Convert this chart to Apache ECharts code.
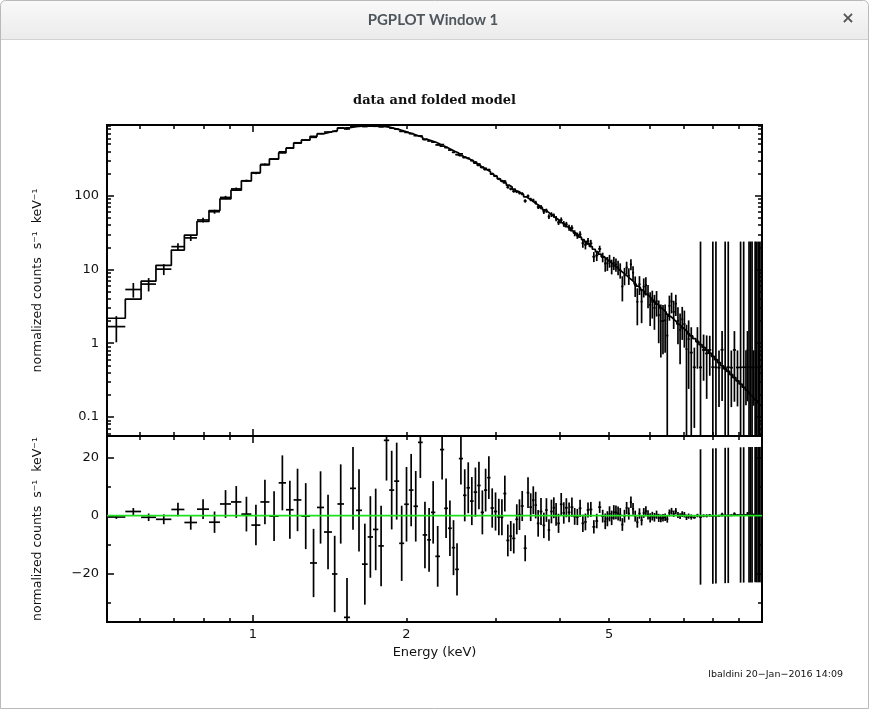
<!DOCTYPE html>
<html><head><meta charset="utf-8">
<script src="https://cdn.jsdelivr.net/npm/echarts@6/dist/echarts.min.js"></script>
<style>html,body{margin:0;padding:0;background:#fff}#c{width:869px;height:709px}</style>
</head><body><div id="c"></div>
<script>
// ---- axis ranges / ticks ----
const X_MIN = 0.517, X_MAX = 9.9783;
const Y_MIN = 0.0552, Y_MAX = 910;
const R_MIN = -36.8, R_MAX = 27.5;
const xMinorTicks = [0.6, 0.7, 0.8, 0.9, 2, 3, 4, 5, 6, 7, 8, 9];
const xMajorTicks = [1];
const xTickLabels = [1, 2, 5];
const yMinorTicks = [0.06, 0.07, 0.08, 0.09, 0.2, 0.3, 0.4, 0.5, 0.6, 0.7, 0.8, 0.9, 2, 3, 4, 5, 6, 7, 8, 9,
  20, 30, 40, 50, 60, 70, 80, 90, 200, 300, 400, 500, 600, 700, 800, 900];
const yMajorTicks = [0.1, 1, 10, 100];
const yTickLabels = [0.1, 1, 10, 100];
const rMinorTicks = [-30, -10, 10];
const rMajorTicks = [-20, 0, 20];
const rTickLabels = [-20, 0, 20];

// ---- channel (bin) edges in keV ----
const edges = [
  0.517, 0.5616, 0.6031, 0.645, 0.6915, 0.7334, 0.7764, 0.8197, 0.8613, 0.9054, 0.9489, 0.9928, 1.034, 1.077, 1.1231, 1.161, 1.2017, 1.2445, 1.294, 1.3357, 1.3786, 1.429, 1.4644,
  1.5088, 1.5502, 1.5928, 1.6365, 1.6793, 1.7203, 1.7621, 1.8064, 1.8506, 1.8929, 1.9362, 1.9804, 2.0225, 2.0654, 2.1079, 2.1532, 2.1974, 2.2354, 2.2798, 2.3288, 2.3728, 2.4139, 2.4563, 2.4938, 2.5353, 2.5833, 2.6245, 2.6663,
  2.7112, 2.7545, 2.7984, 2.8411, 2.8818, 2.9257, 2.9704, 3.015, 3.0604, 3.1, 3.1423, 3.1853, 3.2265, 3.2728, 3.3159, 3.3537, 3.3986, 3.4451, 3.4866, 3.5294, 3.5694, 3.6067, 3.6503, 3.7001, 3.7454, 3.788, 3.8311, 3.8746, 3.9151, 3.9543, 4.0028, 4.051, 4.0969, 4.1463, 4.1991, 4.2535, 4.3058, 4.3576, 4.4132, 4.4673, 4.5181, 4.5726, 4.635, 4.6982, 4.7592, 4.8242, 4.8899,
  4.9374, 4.9854, 5.0338, 5.0827, 5.1321, 5.1819, 5.2322, 5.283, 5.3343, 5.3861, 5.4384, 5.4912, 5.5445, 5.5984, 5.6528, 5.7077, 5.7631, 5.819, 5.8755, 5.9326, 5.9902, 6.0484, 6.1071, 6.1664, 6.2263, 6.2868, 6.3478, 6.4094, 6.4717, 6.5345, 6.598, 6.662, 6.7267, 6.7921, 6.858, 6.9246, 6.9919, 7.0598, 7.1283, 7.1975,
  7.2985, 7.4009, 7.5047, 7.61, 7.7168, 7.825, 7.9348, 8.0461, 8.159, 8.2734, 8.3895, 8.5072, 8.6265, 8.7475, 8.8702, 8.9947, 9.1208, 9.2488,
  9.3129, 9.3774, 9.4423, 9.5077, 9.5735, 9.6398, 9.7066, 9.7738, 9.8415, 9.9097, 9.9783
];

// ---- folded model per bin (counts s^-1 keV^-1) ----
const model = [
  2.18, 3.95, 6.94, 11.4, 18.3, 29.2, 44.7, 63, 90.8, 119, 159, 206, 262, 314, 382, 442, 517, 568, 636, 692, 736, 767, 826,
  840, 862, 877, 884, 885, 880, 870, 851, 819, 789, 755, 718, 686, 650, 622, 584, 562, 534, 503, 471, 448, 421, 399, 380, 350, 328, 312,
  295, 277, 258, 242, 225, 212, 196, 184, 170, 159, 149, 139, 131, 123, 115, 109, 103, 96.3, 91.1, 86.1, 81.1, 77.2, 73.4, 68.7, 64.4, 60.8, 57.2, 54.2, 51.1, 48.7, 46.1, 43.0, 40.7, 38.2, 35.9, 33.5, 31.4, 29.3, 27.4, 25.4, 23.8, 22.3, 20.5, 18.8, 17.4, 16.1, 14.9,
  14.01, 13.25, 12.57, 11.88, 11.22, 10.61, 10.03, 9.51, 8.99, 8.50, 8.04, 7.57, 7.16, 6.75, 6.34, 5.95, 5.61, 5.27, 4.97, 4.65, 4.37, 4.11, 3.86, 3.62, 3.40, 3.20, 2.99, 2.81, 2.64, 2.47, 2.32, 2.19, 2.06, 1.94, 1.82, 1.72, 1.61, 1.52, 1.43, 1.34,
  1.256, 1.151, 1.051, 0.960, 0.880, 0.806, 0.732, 0.664, 0.601, 0.546, 0.495, 0.449, 0.414, 0.376, 0.341, 0.309, 0.280, 0.253,
  0.234, 0.223, 0.212, 0.201, 0.191, 0.182, 0.172, 0.164, 0.156, 0.148, 0.141
];

// ---- residuals (data - model) per bin ----
const resid = [
  -0.5, 1.4, -0.6, -1.3, 2.1, -2.4, 2.2, -2.3, 4.0, 4.7, 0.5, -3.3, 4.7, -0.2, 11.3, 2.0, 5.4, -0.2, -16.4, 2.8, -5.7, -20.2, 4.0,
  -35.2, 9.4, 1.8, -16.8, -7.4, -4.8, -10.5, 26.0, 8.8, 11.9, -9.6, 3.9, 8.8, 3.2, 25.3, -6.7, -8.4, 1.1, -14.1, 22.8, 2.5, -4.4, -11.1, -18.6, 19.7, 7.0, 9.6,
  5.0, 8.1, 10.4, 1.1, 8.8, 13.1, 2.6, 1.4, -0.5, -0.6, 7.6, -8.6, -7.1, -7.9, -1.3, 0.3, 3.3, -11.3, 7.9, 2.9, 5.3, 3.6, -2.7, 1.4, -3.4, 1.9, -5.0, 1.4, 2.7, 0.4, -2.7, 3.9, 0.9, 2.7, 1.1, 2.9, -0.3, -0.5, 2.5, -2.7, -2.2, 1.9, 2.1, -3.9, -1.9, 2.9, -0.2,
  -2.0, -1.1, 0.6, -0.8, 1.1, 1.1, 0.7, 0.3, -3.1, -0.2, 2.6, 0.7, 4.6, 2.3, -0.2, -2.3, 0.7, -1.6, 0.9, 1.5, 0.2, -0.8, -0.2, -0.6, 0.3, -0.8, -1.0, -0.8, -0.6, -1.2, 0.9, 1.5, 0.6, 1.5, 0.2, -0.2, 0.5, 0.3, -0.6, -0.2,
  -0.51, -0.68, 0.0, -0.49, -0.07, -0.08, 0.08, -0.19, -0.13, -0.08, 0.32, 0.02, 0.06, 0.09, 0.47, 0.16, 0.19, 0.22,
  0.24, 0.59, 0.26, 0.27, 0.28, 0.29, 0.30, 0.31, 0.31, 0.32, 0.33
];

// ---- 1-sigma errors per bin ----
const err = [
  0.65, 1.2, 1.3, 1.7, 2.3, 2.5, 3.4, 3.7, 4.8, 5.5, 6.0, 7.0, 7.7, 8.6, 9.5, 10.0, 10.8, 11.4, 11.8, 12.5, 12.9, 13.2, 13.7,
  13.6, 14.3, 14.2, 14.0, 14.1, 14.1, 13.9, 13.9, 13.6, 13.3, 13.0, 12.9, 12.5, 12.2, 12.3, 11.5, 11.0, 10.8, 10.5, 10.3, 10.3, 9.6, 9.5, 9.0, 9.0, 9.0, 8.8,
  8.3, 8.5, 8.2, 7.6, 7.4, 7.4, 6.8, 6.6, 6.3, 6.2, 6.2, 5.5, 5.2, 5.2, 5.2, 5.3, 5.2, 4.5, 5.3, 4.8, 4.8, 4.6, 4.6, 4.7, 4.4, 4.1, 3.7, 4.1, 3.6, 3.9, 3.3, 3.9, 3.7, 3.3, 3.4, 3.3, 2.9, 2.8, 3.0, 3.0, 2.9, 2.6, 2.6, 2.3, 2.5, 2.0, 2.2,
  2.7, 2.6, 2.6, 2.5, 2.5, 2.4, 2.4, 2.3, 2.2, 2.2, 2.1, 2.1, 2.0, 2.0, 1.9, 1.9, 1.8, 1.8, 1.7, 1.7, 1.6, 1.6, 1.5, 1.5, 1.4, 1.4, 1.35, 1.3, 1.3, 1.25, 1.2, 1.15, 1.1, 1.1, 1.05, 1.0, 1.0, 0.95, 0.95, 0.9,
  0.9, 0.4, 0.6, 23.4, 0.5, 0.55, 0.45, 23.4, 23.4, 0.33, 0.65, 23.4, 23.4, 0.33, 0.65, 0.33, 23.4, 23.4,
  0.33, 0.65, 23.4, 23.4, 23.4, 0.33, 23.4, 23.4, 23.4, 23.4, 23.4
];

// ---- build tables for the library ----
const nBins = model.length;
const centers = model.map((_, i) => (edges[i] + edges[i + 1]) / 2);
const upperData = model.map((m, i) => [edges[i], edges[i + 1], centers[i], m + resid[i], err[i]]);
const lowerData = resid.map((r, i) => [edges[i], edges[i + 1], centers[i], r, err[i]]);
const modelSteps = edges.map((e, i) => [e, model[Math.min(i, nBins - 1)]]);
const zeroLine = [[X_MIN, 0], [X_MAX, 0]];

const LW = 1.7;
const SANS = 'DejaVu Sans';

function makeCross(isLog) {
  return function (params, api) {
    const cs = params.coordSys;
    const L = cs.x, R = cs.x + cs.width, T = cs.y, B = cs.y + cs.height;
    const lo = api.value(0), hi = api.value(1), c = api.value(2), v = api.value(3), e = api.value(4);
    const ref = isLog ? 1 : 0;
    const xl = api.coord([lo, ref])[0], xh = api.coord([hi, ref])[0], xc = api.coord([c, ref])[0];
    const py = val => (isLog && val <= 0) ? B + 50 : api.coord([c, val])[1];
    const yv = py(v), yt = py(v + e), yb = py(v - e);
    const clampY = y => Math.min(B, Math.max(T, y));
    const st = { stroke: '#000', lineWidth: LW, fill: null };
    const kids = [];
    if (yv >= T && yv <= B) {
      kids.push({ type: 'line', shape: { x1: Math.max(L, xl), y1: yv, x2: Math.min(R, xh), y2: yv }, style: st });
    }
    const a = clampY(yt), b = clampY(yb);
    if (b - a > 0.2) kids.push({ type: 'line', shape: { x1: xc, y1: a, x2: xc, y2: b }, style: st });
    return { type: 'group', children: kids };
  };
}

const axLine = { show: true, onZero: false, lineStyle: { color: '#000', width: 2 } };
function tick(values, len) {
  return { show: true, inside: true, length: len, customValues: values, lineStyle: { color: '#000', width: 1.5 } };
}
const noLabel = { show: false };
const off = { show: false };
const minusFmt = v => String(v).replace('-', '\u2212');

function xAx(grid, pos, ticks, len, extra) {
  return Object.assign({
    type: 'log', logBase: 10, gridIndex: grid, position: pos, min: X_MIN, max: X_MAX,
    axisLine: axLine, axisTick: tick(ticks, len), axisLabel: noLabel,
    splitLine: off, minorTick: off, minorSplitLine: off, axisPointer: off
  }, extra || {});
}
function yLog(grid, pos, ticks, len, extra) {
  return Object.assign({
    type: 'log', logBase: 10, gridIndex: grid, position: pos, min: Y_MIN, max: Y_MAX,
    axisLine: axLine, axisTick: tick(ticks, len), axisLabel: noLabel,
    splitLine: off, minorTick: off, minorSplitLine: off
  }, extra || {});
}
function yLin(grid, pos, ticks, len, extra) {
  return Object.assign({
    type: 'value', gridIndex: grid, position: pos, min: R_MIN, max: R_MAX,
    axisLine: axLine, axisTick: tick(ticks, len), axisLabel: noLabel,
    splitLine: off, minorTick: off, minorSplitLine: off
  }, extra || {});
}

const yName = 'normalized counts  s\u207B\u00B9  keV\u207B\u00B9';
const nameStyle = { fontFamily: SANS, fontSize: 12.5, color: '#111' };
const labelStyle = { show: true, fontFamily: SANS, fontSize: 13, color: '#111' };

const chart = echarts.init(document.getElementById('c'), null, { renderer: 'canvas' });
chart.setOption({
  animation: false,
  backgroundColor: '#ffffff',
  title: {
    text: 'data and folded model', left: 'center', top: 89,
    textStyle: { fontFamily: 'DejaVu Serif', fontWeight: 'bold', fontSize: 13, color: '#111' }
  },
  grid: [
    { left: 107, top: 125, width: 655, height: 311, containLabel: false },
    { left: 107, top: 436, width: 655, height: 186, containLabel: false }
  ],
  xAxis: [
    xAx(0, 'bottom', xMinorTicks, 4),
    xAx(0, 'bottom', xMajorTicks, 7),
    xAx(0, 'top', xMinorTicks, 4),
    xAx(0, 'top', xMajorTicks, 7),
    xAx(1, 'bottom', xMinorTicks, 4, {
      axisLabel: Object.assign({ customValues: xTickLabels, margin: 6 }, labelStyle),
      name: 'Energy (keV)', nameLocation: 'middle', nameGap: 24, nameTextStyle: { fontFamily: SANS, fontSize: 13, color: '#111' }
    }),
    xAx(1, 'bottom', xMajorTicks, 7),
    xAx(1, 'top', xMinorTicks, 4),
    xAx(1, 'top', xMajorTicks, 7)
  ],
  yAxis: [
    yLog(0, 'left', yMinorTicks, 4, {
      axisLabel: Object.assign({ customValues: yTickLabels, margin: 8 }, labelStyle),
      name: yName, nameLocation: 'middle', nameGap: 63, nameRotate: 90, nameTextStyle: nameStyle
    }),
    yLog(0, 'left', yMajorTicks, 7),
    yLog(0, 'right', yMinorTicks, 4),
    yLog(0, 'right', yMajorTicks, 7),
    yLin(1, 'left', rMinorTicks, 4, {
      axisLabel: Object.assign({ customValues: rTickLabels, margin: 8, formatter: minusFmt }, labelStyle),
      name: yName, nameLocation: 'middle', nameGap: 63, nameRotate: 90, nameTextStyle: nameStyle
    }),
    yLin(1, 'left', rMajorTicks, 7),
    yLin(1, 'right', rMinorTicks, 4),
    yLin(1, 'right', rMajorTicks, 7)
  ],
  series: [
    {
      name: 'model', type: 'line', xAxisIndex: 0, yAxisIndex: 0, data: modelSteps, step: 'end',
      symbol: 'none', lineStyle: { color: '#000', width: LW }, clip: true, z: 3
    },
    {
      name: 'data', type: 'custom', xAxisIndex: 0, yAxisIndex: 0, data: upperData,
      dimensions: ['lo', 'hi', 'c', 'v', 'e'], encode: { x: 2, y: 3 },
      renderItem: makeCross(true), z: 4
    },
    {
      name: 'residuals', type: 'custom', xAxisIndex: 4, yAxisIndex: 4, data: lowerData,
      dimensions: ['lo', 'hi', 'c', 'v', 'e'], encode: { x: 2, y: 3 },
      renderItem: makeCross(false), z: 4
    },
    {
      name: 'zero', type: 'line', xAxisIndex: 4, yAxisIndex: 4, data: zeroLine,
      symbol: 'none', lineStyle: { color: '#1fe01f', width: 1.8 }, z: 6
    }
  ],
  graphic: [
    { type: 'rect', z: -5, silent: true, shape: { x: 0.5, y: 0.5, width: 868, height: 39, r: [5, 5, 0, 0] },
      style: { fill: new echarts.graphic.LinearGradient(0, 0, 0, 1, [{ offset: 0, color: '#f9f9f9' }, { offset: 1, color: '#ebebeb' }]), stroke: null } },
    { type: 'line', z: -4, silent: true, shape: { x1: 0, y1: 39.5, x2: 869, y2: 39.5 }, style: { stroke: '#d2d2d2', lineWidth: 1 } },
    { type: 'rect', z: -3, silent: true, shape: { x: 0.5, y: 0.5, width: 868, height: 708, r: [5, 5, 0, 0] },
      style: { fill: null, stroke: '#b9b9b9', lineWidth: 1 } },
    { type: 'text', z: 10, silent: true, x: 433, y: 20,
      style: { text: 'PGPLOT Window 1', fontFamily: 'Lato', fontWeight: 'bold', fontSize: 15, fill: '#4f575d', textAlign: 'center', textVerticalAlign: 'middle' } },
    { type: 'text', z: 10, silent: true, x: 848, y: 19,
      style: { text: '\u00D7', fontFamily: SANS, fontWeight: 'bold', fontSize: 16, fill: '#555', textAlign: 'center', textVerticalAlign: 'middle' } },
    { type: 'text', z: 10, silent: true, x: 843, y: 675,
      style: { text: 'lbaldini 20\u2212Jan\u22122016 14:09', fontFamily: SANS, fontSize: 9.5, fill: '#111', textAlign: 'right', textVerticalAlign: 'middle' } }
  ]
});
</script></body></html>
